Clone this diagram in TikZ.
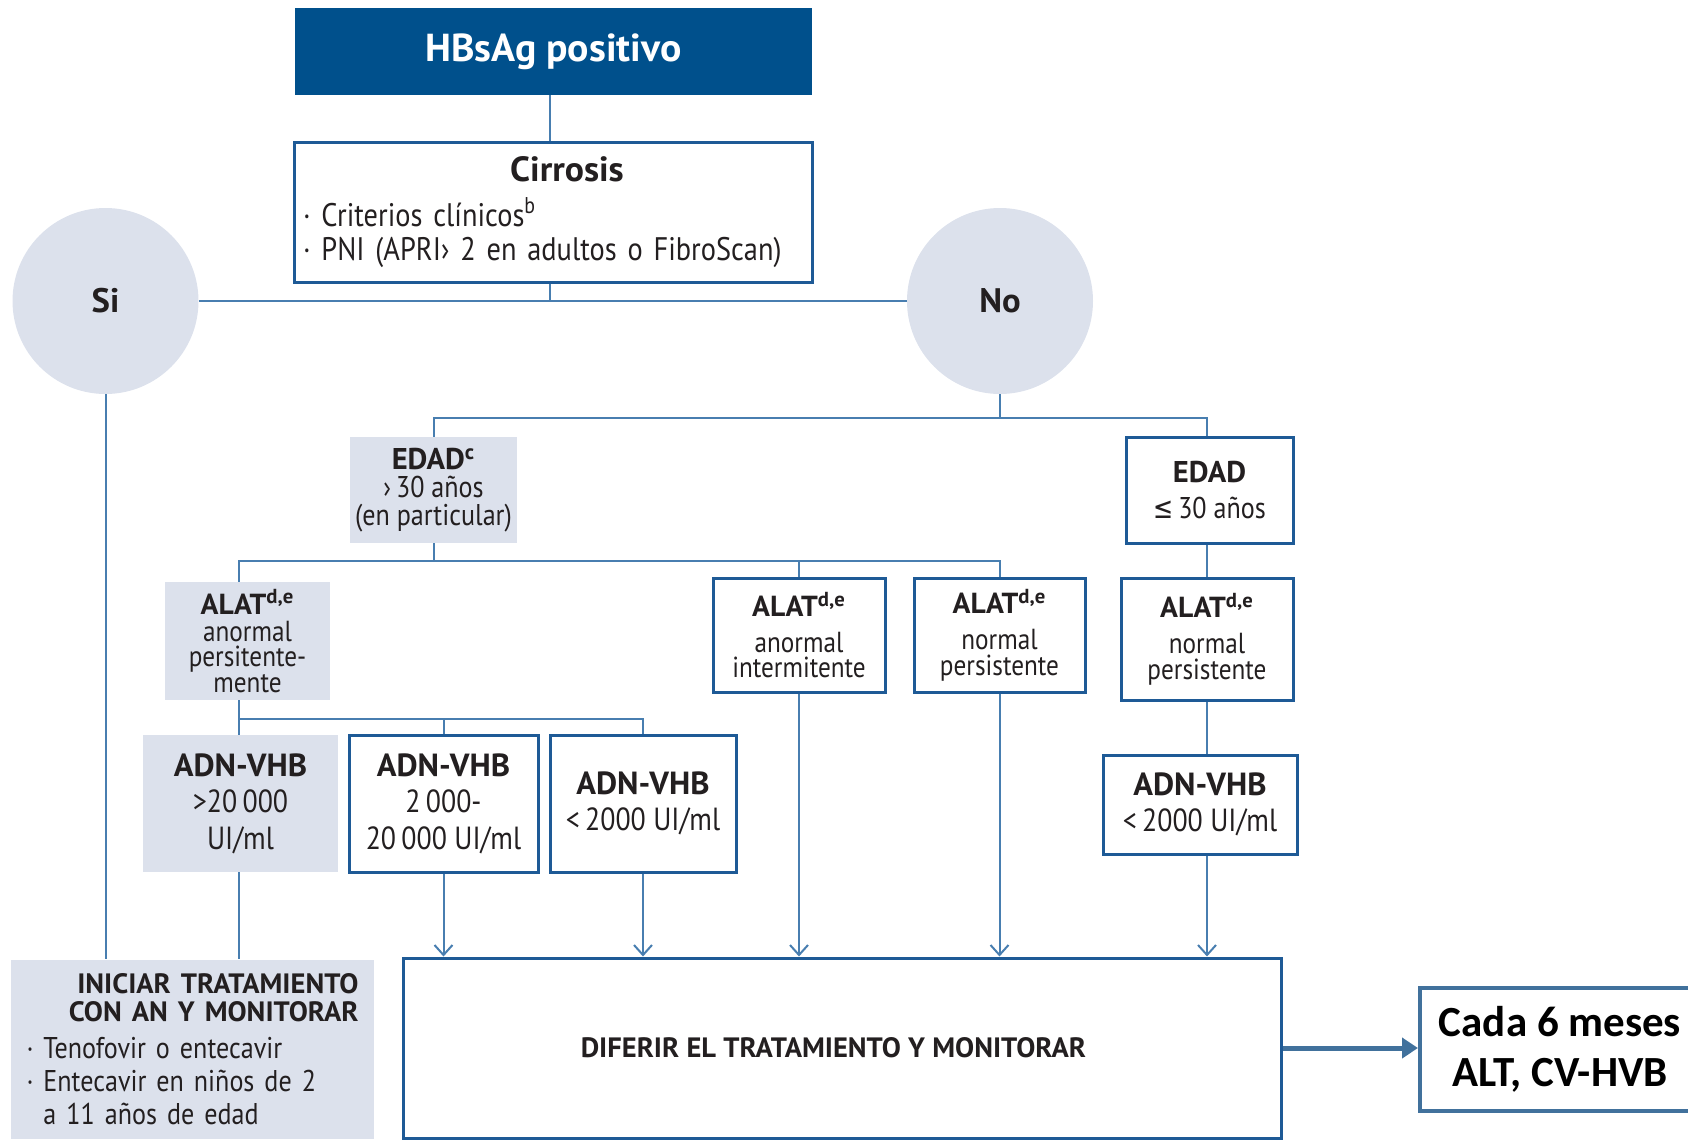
\documentclass[tikz,border=0pt]{standalone}
\usepackage{fontspec}
\setmainfont{PT Sans}[UprightFeatures={FakeStretch=0.87}, BoldFeatures={FakeStretch=1.02}]
\newfontfamily\calfont{Carlito}
\newfontfamily\symfont{DejaVu Sans}[FakeStretch=0.8]
\usetikzlibrary{arrows.meta}
\definecolor{hbblue}{RGB}{0,80,140}
\definecolor{boxblue}{RGB}{30,90,150}
\definecolor{lineblue}{RGB}{72,126,176}
\definecolor{boxgray}{RGB}{220,225,236}
\definecolor{inkdark}{RGB}{35,31,32}
\definecolor{cadablue}{RGB}{65,113,156}
\lineskiplimit=-20pt
\lineskip=0pt
\begin{document}
\begin{tikzpicture}[x=0.5pt, y=-0.5pt,
    every node/.style={text=inkdark, inner sep=0pt, align=center},
    outlinebox/.style={draw=boxblue, line width=1.5pt, fill=white},
    graybox/.style={fill=boxgray},
    answer/.style={circle, fill=boxgray, minimum size=93pt,
      font=\fontsize{17}{20}\selectfont\bfseries},
    link/.style={draw=lineblue, line width=1pt},
    arrowlink/.style={link, -{Straight Barb[length=5pt, width=9pt]}},
    alatfont/.style={font=\fontsize{14.5}{12.6}\selectfont},
    adnfont/.style={font=\fontsize{16}{18.3}\selectfont}]
    \useasboundingbox (0,0) rectangle (1688,1140);

    % Top: HBsAg and cirrosis
    \node[fill=hbblue, text=white, minimum width=258.5pt, minimum height=43.5pt,
      font=\fontsize{19.5}{22}\selectfont\bfseries] (hbsag) at (553.5,51.5) {HBsAg positivo};
    \node[outlinebox, minimum width=259pt, minimum height=70pt, text width=250pt, align=left,
      font=\fontsize{16.3}{17.3}\selectfont] (cirrosis) at (553,212)
      {{\centering\hspace*{14pt}\fontsize{17.5}{20}\selectfont\bfseries Cirrosis\par}
       \vskip 5.1pt
       · Criterios clínicos\textsuperscript{b}\\
       · PNI (APRI› 2 en adultos o FibroScan)};
    \node[answer] (si) at (105.5,301) {Si};
    \node[answer] (no) at (1000,301) {No};

    % Age
    \node[graybox, minimum width=83.5pt, minimum height=53pt,
      font=\fontsize{15}{13.7}\selectfont] (edadA) at (433.5,490)
      {\textbf{EDAD}\textsuperscript{\bfseries c}\\[0.3pt]›\,30 años\\(en particular)};
    \node[outlinebox, minimum width=83.5pt, minimum height=53pt,
      font=\fontsize{15}{17.8}\selectfont] (edadB) at (1209.5,490)
      {\textbf{EDAD}\\{\symfont ≤}\,30 años};

    % ALAT
    \node[graybox, alatfont, minimum width=82.5pt, minimum height=59pt] (alatA) at (247.5,641)
      {\textbf{ALAT}\textsuperscript{\bfseries d,e}\\[1.2pt]anormal\\persitente-\\mente};
    \node[outlinebox, alatfont, minimum width=86pt, minimum height=57pt] (alatB) at (799,635)
      {\textbf{ALAT}\textsuperscript{\bfseries d,e}\\[5.5pt]anormal\\intermitente};
    \node[outlinebox, alatfont, minimum width=85.5pt, minimum height=57pt] (alatC) at (999.5,635)
      {\textbf{ALAT}\textsuperscript{\bfseries d,e}\\[5.5pt]normal\\persistente};
    \node[outlinebox, alatfont, minimum width=86pt, minimum height=61pt] (alatD) at (1207,639)
      {\textbf{ALAT}\textsuperscript{\bfseries d,e}\\[5.5pt]normal\\persistente};

    % ADN-VHB
    \node[graybox, adnfont, minimum width=97.5pt, minimum height=68.5pt] (adnA) at (240.5,803.5)
      {\textbf{ADN-VHB}\\>20\,000\\UI/ml};
    \node[outlinebox, adnfont, minimum width=94.5pt, minimum height=68.5pt] (adnB) at (443.5,803.5)
      {\textbf{ADN-VHB}\\2\,000-\\20\,000 UI/ml};
    \node[outlinebox, adnfont, minimum width=93pt, minimum height=68.5pt] (adnC) at (643,803.5)
      {\textbf{ADN-VHB}\\<\,2000 UI/ml};
    \node[outlinebox, adnfont, minimum width=97pt, minimum height=49.5pt] (adnD) at (1200,804.5)
      {\textbf{ADN-VHB}\\<\,2000 UI/ml};

    % Bottom
    \node[graybox, minimum width=181.5pt, minimum height=89.5pt, text width=166pt,
      align=left, font=\fontsize{15}{16.5}\selectfont] (iniciar) at (192.5,1049)
      {{\raggedleft\fontsize{14}{14}\selectfont\bfseries INICIAR TRATAMIENTO\\CON AN Y MONITORAR\par}
       \vspace{2.3pt}
       · Tenofovir o entecavir\\
       · Entecavir en niños de 2\\
       \hphantom{·\ }a 11 años de edad};
    \node[outlinebox, minimum width=439pt, minimum height=90pt,
      font=\fontsize{14}{17}\selectfont\bfseries] (diferir) at (842,1048)
      {DIFERIR EL TRATAMIENTO Y MONITORAR\hspace*{8.6pt}};
    \node[draw=cadablue, line width=2pt, minimum width=140pt, minimum height=61.5pt,
      text=black, font=\calfont\fontsize{21.5}{25.3}\selectfont\bfseries] (cada) at (1560,1049.5)
      {Cada 6 meses\\ALT, CV-HVB};

    % Forks
    \coordinate (nofork) at (1000,418);
    \coordinate (edadfork) at (433.5,561);
    \coordinate (leftcol) at (239,561);
    \coordinate (alatfork) at (239,719);

    % Connectors
    \draw[link] (hbsag.south -| 550,0) -- (cirrosis.north -| 550,0);
    \draw[link] (si) -- (no);
    \draw[link] (cirrosis.south -| 550,0) -- (si.center -| 550,0);
    \draw[link] (no.south) -- (nofork);
    \draw[link] (edadA.north) |- (nofork) -| (alatD.north |- edadB.north);
    \draw[link] (edadA.south) -- (edadfork);
    \draw[link] (alatA.north -| leftcol) -- (leftcol) -| (alatC.north);
    \draw[link] (alatB.north) -- (alatB.north |- leftcol);
    \draw[link] (alatD.north |- edadB.south) -- (alatD.north);
    \draw[link] (alatA.south -| leftcol) -- (adnA.north -| leftcol);
    \draw[link] (alatfork) -| (adnC.north);
    \draw[link] (adnB.north) -- (adnB.north |- alatfork);
    \draw[link] (alatD.south) -- (alatD.south |- adnD.north);
    \draw[link] (adnA.south -| leftcol) -- (leftcol |- iniciar.north);
    \draw[link] (si.south) -- (si.south |- iniciar.north);
    \foreach \n in {adnB,adnC,alatB,alatC}
      \draw[arrowlink] (\n.south) -- (\n.south |- diferir.north);
    \draw[arrowlink] (alatD.south |- adnD.south) -- (alatD.south |- diferir.north);
    \draw[draw=cadablue, line width=2.5pt, -{Triangle[length=8pt, width=10pt]}]
      (diferir.east) -- (diferir.east -| cada.west);
\end{tikzpicture}
\end{document}
